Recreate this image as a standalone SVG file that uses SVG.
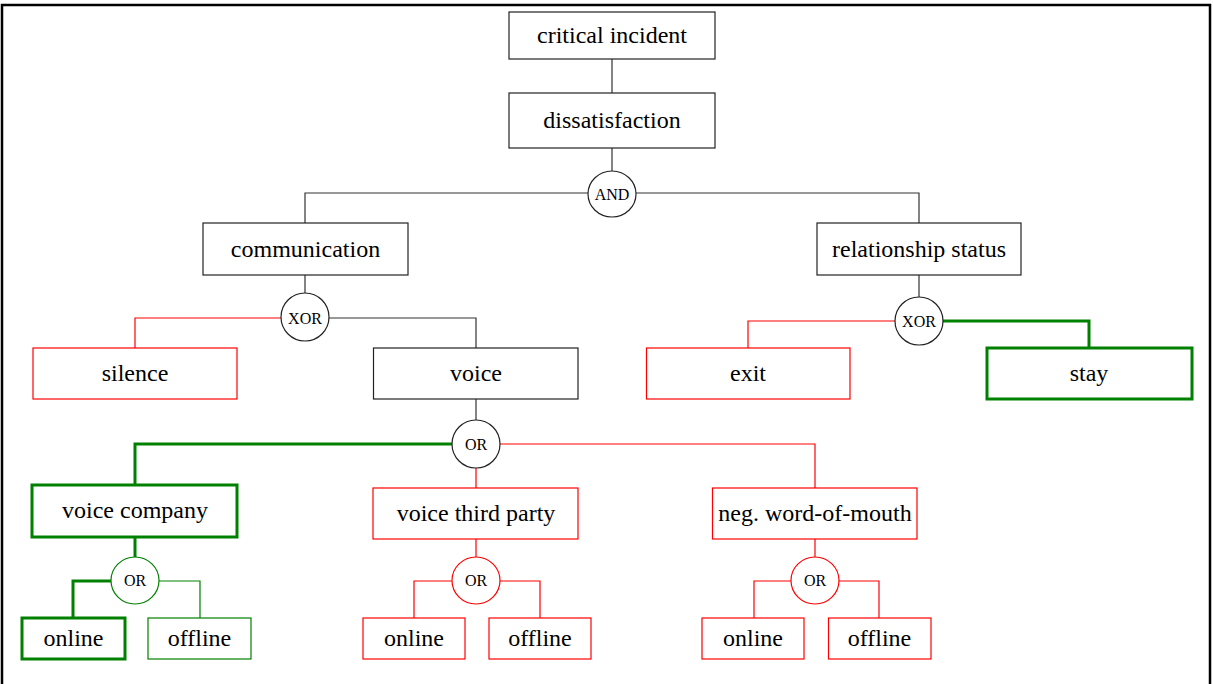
<svg xmlns="http://www.w3.org/2000/svg" width="1213" height="684" viewBox="0 0 1213 684">
<style>
text{font-family:'Liberation Serif','Times New Roman',Times,'DejaVu Serif',serif;fill:#000}
.lbl{font-size:24px;text-anchor:middle}
.gt{font-size:16px;text-anchor:middle}
.b{fill:#fff;stroke:#222;stroke-width:1.2}
.r{fill:#fff;stroke:#f00;stroke-width:1.2}
.g{fill:#fff;stroke:#008000;stroke-width:1.2}
.G{fill:#fff;stroke:#008000;stroke-width:3}
.cb{fill:none;stroke:#333;stroke-width:1.2}
.cr{fill:none;stroke:#f00;stroke-width:1.2}
.cg{fill:none;stroke:#008000;stroke-width:1.2}
.cG{fill:none;stroke:#008000;stroke-width:3}
</style>
<rect x="2" y="5" width="1208" height="700" fill="#fff" stroke="#000" stroke-width="2.5"/>
<g id="connectors">
<path class="cb" d="M612 59V93M612 148V171"/>
<path class="cb" d="M588 193H305V223M636 193H919V223"/>
<path class="cb" d="M305 275V293M919 275V297"/>
<path class="cr" d="M281 318H135V348"/>
<path class="cb" d="M329 318H476V348"/>
<path class="cr" d="M895 321H748V348"/>
<path class="cG" d="M943 321H1089V348"/>
<path class="cb" d="M476 399V420"/>
<path class="cG" d="M452 444H135V485"/>
<path class="cr" d="M500 444H815V488M476 468V488"/>
<path class="cG" d="M135 537V557"/>
<path class="cG" d="M111 581H73V618"/>
<path class="cg" d="M159 581H200V618"/>
<path class="cr" d="M476 539V557M452 581H414V618M500 581H540V618"/>
<path class="cr" d="M815 539V557M791 581H754V618M839 581H879V618"/>
</g>
<g id="critical-incident"><rect class="b" x="509" y="12" width="206" height="47"/><text class="lbl" x="612" y="43">critical incident</text></g>
<g id="dissatisfaction"><rect class="b" x="509" y="93" width="206" height="55"/><text class="lbl" x="612" y="128">dissatisfaction</text></g>
<g id="and-gate"><ellipse class="b" cx="612" cy="194" rx="24" ry="23"/><text class="gt" x="612" y="199.5">AND</text></g>
<g id="communication"><rect class="b" x="203" y="223" width="205" height="52"/><text class="lbl" x="305.5" y="257">communication</text></g>
<g id="relationship-status"><rect class="b" x="817" y="223" width="204" height="52"/><text class="lbl" x="919" y="257">relationship status</text></g>
<g id="xor-communication"><ellipse class="b" cx="305" cy="317" rx="24" ry="24"/><text class="gt" x="305" y="323.5">XOR</text></g>
<g id="xor-relationship"><ellipse class="b" cx="919" cy="321" rx="24" ry="24"/><text class="gt" x="919" y="326.5">XOR</text></g>
<g id="silence"><rect class="r" x="33" y="348" width="204" height="51"/><text class="lbl" x="135" y="381">silence</text></g>
<g id="voice"><rect class="b" x="373.5" y="348" width="204.5" height="51"/><text class="lbl" x="476" y="381">voice</text></g>
<g id="exit"><rect class="r" x="646.5" y="348" width="203.5" height="51"/><text class="lbl" x="748" y="381">exit</text></g>
<g id="stay"><rect class="G" x="987" y="348" width="205" height="51"/><text class="lbl" x="1089" y="381">stay</text></g>
<g id="or-voice"><ellipse class="b" cx="476" cy="444" rx="24" ry="24"/><text class="gt" x="476" y="449.5">OR</text></g>
<g id="voice-company"><rect class="G" x="32" y="485" width="205" height="52"/><text class="lbl" x="135" y="518">voice company</text></g>
<g id="voice-third-party"><rect class="r" x="373" y="488" width="205" height="51"/><text class="lbl" x="476" y="521">voice third party</text></g>
<g id="neg-word-of-mouth"><rect class="r" x="712.5" y="488" width="204.5" height="51"/><text class="lbl" x="815" y="521">neg. word-of-mouth</text></g>
<g id="or-company"><ellipse class="g" cx="135" cy="580.5" rx="24" ry="23.5"/><text class="gt" x="135" y="586">OR</text></g>
<g id="or-third-party"><ellipse class="r" cx="476" cy="580.5" rx="24" ry="23.5"/><text class="gt" x="476" y="586">OR</text></g>
<g id="or-wom"><ellipse class="r" cx="815" cy="580.5" rx="24" ry="23.5"/><text class="gt" x="815" y="586">OR</text></g>
<g id="company-online"><rect class="G" x="22" y="618" width="103" height="41"/><text class="lbl" x="73.5" y="646">online</text></g>
<g id="company-offline"><rect class="g" x="148" y="618" width="103" height="41"/><text class="lbl" x="199.5" y="646">offline</text></g>
<g id="third-party-online"><rect class="r" x="363" y="618" width="102" height="41"/><text class="lbl" x="414" y="646">online</text></g>
<g id="third-party-offline"><rect class="r" x="489" y="618" width="102" height="41"/><text class="lbl" x="540" y="646">offline</text></g>
<g id="wom-online"><rect class="r" x="702" y="618" width="102" height="41"/><text class="lbl" x="753" y="646">online</text></g>
<g id="wom-offline"><rect class="r" x="828.5" y="618" width="102.5" height="41"/><text class="lbl" x="879.5" y="646">offline</text></g>
</svg>
